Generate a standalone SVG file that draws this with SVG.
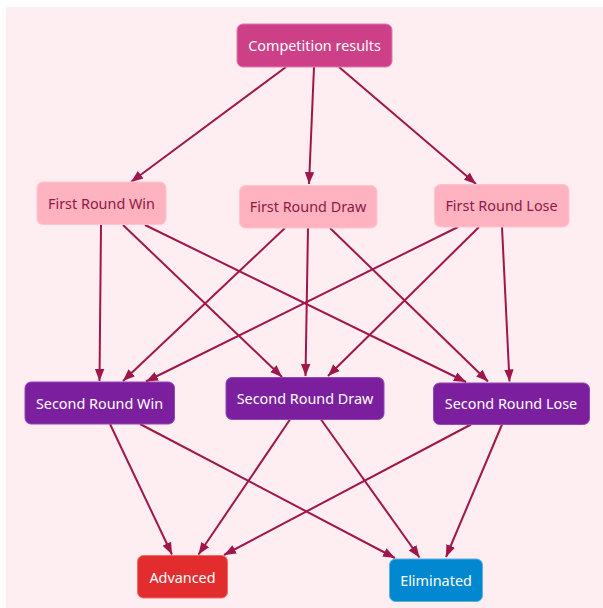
<svg xmlns="http://www.w3.org/2000/svg" width="603" height="608" viewBox="0 0 603 608">
<style>
.n text{font-family:"Noto Sans","Open Sans",sans-serif;font-size:14.4px;text-anchor:middle;dominant-baseline:central}
.top rect{fill:#CD4087;stroke:#E07AAE;stroke-width:1}
.top text{fill:#ffffff}
.r1 rect{fill:#FFB3C0;stroke:#FFC4CF;stroke-width:1}
.r1 text{fill:#8E1846}
.r2 rect{fill:#7B1F9F;stroke:#9446B3;stroke-width:1}
.r2 text{fill:#ffffff}
.adv rect{fill:#E32C2E;stroke:#EE6C6C;stroke-width:1}
.adv text{fill:#ffffff}
.elim rect{fill:#0288D0;stroke:#5AB0E0;stroke-width:1}
.elim text{fill:#ffffff}
#edges line{stroke:#A0164A;stroke-width:2;fill:none;marker-end:url(#ah)}
</style>
<defs>
<marker id="ah" markerUnits="userSpaceOnUse" markerWidth="13" markerHeight="13" viewBox="0 0 13 13" refX="12" refY="6.5" orient="auto">
<path d="M0,1.8 L12,6.5 L0,11.2 Z" fill="#A0164A"/>
</marker>
</defs>
<rect x="0" y="0" width="603" height="608" fill="#ffffff"/>
<rect x="6" y="7" width="597" height="601" fill="#FFEEF1"/>
<g id="edges">
<line x1="286" y1="67" x2="131" y2="182"/>
<line x1="314" y1="67" x2="309" y2="184"/>
<line x1="339" y1="67" x2="476" y2="184"/>
<line x1="101" y1="225" x2="99.5" y2="381"/>
<line x1="123" y1="225" x2="282" y2="377"/>
<line x1="145" y1="225" x2="466" y2="382"/>
<line x1="285" y1="228" x2="123" y2="381"/>
<line x1="308" y1="228" x2="305.5" y2="376"/>
<line x1="330" y1="228" x2="488" y2="381.5"/>
<line x1="458" y1="227" x2="146" y2="381.5"/>
<line x1="479" y1="227" x2="328" y2="376"/>
<line x1="502" y1="227" x2="509.5" y2="381.5"/>
<line x1="110" y1="424" x2="172" y2="554.5"/>
<line x1="140" y1="424" x2="395" y2="558"/>
<line x1="290" y1="419.5" x2="198.5" y2="554.5"/>
<line x1="321" y1="419.5" x2="419.5" y2="557.5"/>
<line x1="471" y1="424.5" x2="224" y2="555"/>
<line x1="502" y1="424.5" x2="446" y2="557"/>
</g>
<g id="competition-results" class="n top"><rect x="237" y="24" width="155" height="43" rx="6"/><text x="314.5" y="45.5">Competition results</text></g>
<g id="first-round-win" class="n r1"><rect x="37" y="182" width="129" height="42.5" rx="6"/><text x="101.5" y="203">First Round Win</text></g>
<g id="first-round-draw" class="n r1"><rect x="239.5" y="185.5" width="137.5" height="42.5" rx="6"/><text x="308" y="206.5">First Round Draw</text></g>
<g id="first-round-lose" class="n r1"><rect x="434.5" y="184.5" width="134.5" height="42.5" rx="6"/><text x="501.5" y="205.5">First Round Lose</text></g>
<g id="second-round-win" class="n r2"><rect x="25" y="382" width="149.5" height="42" rx="6"/><text x="99.5" y="403">Second Round Win</text></g>
<g id="second-round-draw" class="n r2"><rect x="226" y="377.5" width="158" height="42" rx="6"/><text x="305" y="398.5">Second Round Draw</text></g>
<g id="second-round-lose" class="n r2"><rect x="433.5" y="383" width="156" height="41.5" rx="6"/><text x="511" y="403.5">Second Round Lose</text></g>
<g id="advanced" class="n adv"><rect x="137.5" y="555.5" width="90" height="42.5" rx="6"/><text x="182.5" y="577">Advanced</text></g>
<g id="eliminated" class="n elim"><rect x="389.5" y="559" width="93" height="42.5" rx="6"/><text x="436" y="580">Eliminated</text></g>
</svg>
